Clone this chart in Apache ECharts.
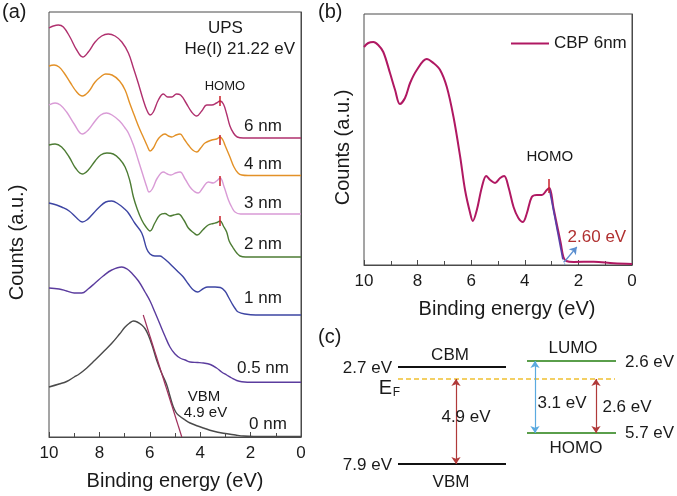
<!DOCTYPE html>
<html><head><meta charset="utf-8">
<script src="https://cdn.jsdelivr.net/npm/echarts@6/dist/echarts.min.js"></script>
<style>html,body{margin:0;padding:0;background:#fff}#c{width:677px;height:496px}</style>
</head><body><div id="c"></div>
<script>
// ---------------- data ----------------
const energyTicks = [10, 8, 6, 4, 2, 0];
const thicknessLabels = ['6 nm', '4 nm', '3 nm', '2 nm', '1 nm', '0.5 nm', '0 nm'];

// Panel (a): UPS spectra, [binding energy (eV), counts (a.u., offset)]
const ups6nm = [[10,409],[9.83,411],[9.63,412],[9.43,410],[9.17,400],[8.9,387],[8.66,380],[8.44,385],[8.17,395],[7.91,401],[7.65,403],[7.38,401],[7.11,395],[6.85,384],[6.65,369],[6.46,354],[6.26,337],[6.12,327],[5.99,322],[5.86,325],[5.66,337],[5.46,343],[5.29,340],[5.13,340],[4.94,343],[4.78,342],[4.56,334],[4.34,325],[4.14,321],[3.94,326],[3.74,332],[3.54,332],[3.35,334],[3.21,336],[3.08,333],[2.95,323],[2.82,311],[2.68,304],[2.53,300],[2.29,299],[1.5,299],[0,299]];
const ups4nm = [[10,371],[9.8,372],[9.6,370],[9.4,364],[9.17,355],[8.9,345],[8.68,341],[8.44,345],[8.17,355],[7.91,361],[7.75,363],[7.5,362],[7.2,356],[6.98,347],[6.8,334],[6.59,320],[6.42,309],[6.26,300],[6.1,291],[5.99,286],[5.86,289],[5.72,296],[5.6,300],[5.4,303],[5.26,301],[5.13,300],[4.96,302],[4.8,303],[4.64,298],[4.47,292],[4.3,287],[4.14,285],[3.98,289],[3.81,294],[3.54,297],[3.35,298],[3.21,300],[3.1,297],[3.02,292],[2.82,280],[2.66,270],[2.5,264],[2.35,262],[2.1,261.5],[0,261.5]];
const ups3nm = [[10,332],[9.76,334],[9.55,332],[9.3,325],[9.0,313],[8.68,303],[8.44,307],[8.17,316],[7.95,322],[7.72,324],[7.5,322],[7.2,316],[6.98,309],[6.85,304],[6.65,292],[6.46,277],[6.26,261],[6.12,250],[6.03,245],[5.9,248],[5.7,259],[5.46,265],[5.3,263],[5.16,262],[4.98,264],[4.8,265],[4.6,258],[4.34,248],[4.08,244],[3.9,249],[3.68,255],[3.48,254],[3.35,256],[3.21,259],[3.05,250],[2.88,237],[2.75,230],[2.62,225],[2.4,223],[0,223]];
const ups2nm = [[10,292],[9.76,293],[9.5,290],[9.2,280],[8.95,269],[8.68,263],[8.44,267],[8.17,276],[7.95,282],[7.7,284],[7.45,283],[7.2,278],[6.98,270],[6.8,257],[6.65,240],[6.5,228],[6.32,217],[6.15,210],[5.99,206],[5.8,214],[5.6,222],[5.4,223.5],[5.2,221],[5.05,222],[4.87,223],[4.65,217],[4.47,209],[4.25,204],[4.12,202],[3.9,207],[3.68,212],[3.48,213.5],[3.33,214.5],[3.21,216],[3.08,211],[2.95,205],[2.85,196],[2.69,189],[2.55,184],[2.42,181],[2.2,180],[0,180]];
const ups1nm = [[10,234],[9.7,232],[9.5,230],[9.2,226],[8.9,219],[8.68,215],[8.5,217],[8.3,222],[8.0,230],[7.75,235],[7.51,236],[7.25,233],[7.0,228],[6.85,224],[6.6,214],[6.32,204],[6.12,188],[5.99,183],[5.8,181],[5.6,181],[5.46,179],[5.27,175],[5.07,170],[4.87,165],[4.67,160],[4.47,153],[4.27,147],[4.1,145],[3.9,148],[3.7,150],[3.41,150],[3.2,149.5],[3.02,146],[2.88,140],[2.75,134],[2.6,128],[2.49,125],[2.22,123],[1.8,122],[0,122]];
const ups05nm = [[10,149],[9.6,148],[9.3,146],[9.0,144],[8.7,144],[8.45,148],[8.17,154],[7.85,161],[7.51,167],[7.11,170],[6.9,168],[6.72,164],[6.45,156],[6.19,145],[5.99,136],[5.8,125],[5.6,113],[5.4,101],[5.2,90],[5.0,83],[4.8,79],[4.6,77],[4.4,75],[4.1,74.5],[3.87,74],[3.6,72.5],[3.35,69],[3.15,65],[2.95,62],[2.75,59],[2.55,56.5],[2.35,55.3],[1.9,54.7],[0,54.7]];
const ups0nm = [[10,50],[9.6,53],[9.3,55.5],[9.0,60],[8.8,63],[8.5,69],[8.17,77],[7.85,85],[7.5,94],[7.2,103],[6.98,110],[6.8,114],[6.65,116],[6.5,115],[6.32,112],[6.18,108],[6.06,102],[5.9,91],[5.73,77],[5.55,65],[5.34,53],[5.2,41],[5.08,31],[4.97,25],[4.87,22],[4.6,17],[4.4,14],[4.1,11],[3.87,9],[3.5,6],[3.08,3.7],[2.6,2],[2.28,1],[1.88,0.5],[0,0.5]];
const vbmTangent = [[6.26,122],[4.73,0]];
const homoEnergyA = 3.21;
const homoCountsA = [336, 297, 256, 216];

// Panel (b): CBP 6 nm spectrum
const cbp6nm = [[10,218],[9.84,222],[9.65,223],[9.47,220],[9.28,213],[9.03,192],[8.84,175],[8.66,161],[8.47,167],[8.28,182],[8.03,195],[7.66,206],[7.41,202],[7.16,195],[6.91,178],[6.66,148],[6.41,108],[6.23,75],[6.04,52],[5.94,44],[5.79,55],[5.6,78],[5.44,89],[5.29,85],[5.11,82],[4.92,87],[4.77,89],[4.61,78],[4.42,58],[4.24,47],[4.07,43],[3.92,52],[3.74,68],[3.55,70],[3.36,70],[3.18,75],[3.08,77],[2.93,57],[2.8,40],[2.66,22],[2.56,8],[2.45,4],[2.18,3],[1.43,3.3],[0.69,1.7],[0,1]];
const onsetFit = [[3.08,76],[2.58,6]];
const onsetTail = [[2.58,6],[2.5,0]];
const homoOnset = '2.60 eV';
const homoEnergyB = 3.12;

// Panel (c): energy level diagram
const levelNames = ['CBM', 'VBM', 'LUMO', 'HOMO'];
const levelEnergies = ['2.7 eV', '7.9 eV', '2.6 eV', '5.7 eV'];
const gapValues = ['4.9 eV', '3.1 eV', '2.6 eV'];

// ---------------- styling / layout ----------------
const FONT = '"Liberation Sans", Arial, Helvetica, sans-serif';
const INK = '#1a1a1a';
const AX = '#4a4a4a';
const colorsA = ['#b0306e', '#e39127', '#d99bd6', '#4d7c34', '#3d45a3', '#5b3c9e', '#4a4a4a'];
const curvesA = [ups6nm, ups4nm, ups3nm, ups2nm, ups1nm, ups05nm, ups0nm];

function xAx(gi, gap, pad) {
  return {
    type: 'value', gridIndex: gi, min: 0, max: 10, interval: 2, inverse: true,
    axisLine: {show: true, onZero: false, lineStyle: {color: AX, width: 1}},
    axisTick: {show: true, inside: true, length: 5, lineStyle: {color: AX}},
    minorTick: {show: true, splitNumber: 2, length: 4, lineStyle: {color: AX}},
    axisLabel: {color: INK, fontSize: 17, fontFamily: FONT, margin: 8,
      formatter: v => energyTicks.includes(v) ? String(v) : ''},
    splitLine: {show: false}, minorSplitLine: {show: false},
    name: 'Binding energy (eV)', nameLocation: 'middle', nameGap: gap,
    nameTextStyle: {fontSize: 20, color: INK, fontFamily: FONT, padding: pad}
  };
}
function yAx(gi, max) {
  return {type: 'value', gridIndex: gi, min: 0, max: max,
    axisLine: {show: true, lineStyle: {color: AX}}, axisTick: {show: false},
    axisLabel: {show: false}, splitLine: {show: false}};
}
function txt(x, y, text, size, align, color) {
  return {value: [x, y], label: {show: true, formatter: text, position: [0, 0],
    align: align || 'center', verticalAlign: 'middle', fontSize: size, color: color || INK,
    fontFamily: FONT, opacity: 1, textBorderWidth: 0}};
}
function textSeries(xi, items) {
  return {type: 'scatter', xAxisIndex: xi, yAxisIndex: xi, symbolSize: 0, silent: true,
    itemStyle: {opacity: 1}, z: 5, data: items, emphasis: {disabled: true}};
}

const series = [];
curvesA.forEach((d, i) => {
  const s = {type: 'line', name: thicknessLabels[i], xAxisIndex: 0, yAxisIndex: 0, data: d,
    symbol: 'none', smooth: 0.4,
    lineStyle: {color: colorsA[i], width: 1.4}, itemStyle: {color: colorsA[i]}, silent: true};
  if (i < homoCountsA.length) {
    s.markLine = {silent: true, symbol: ['none', 'none'], label: {show: false},
      lineStyle: {color: '#c8202a', width: 1.5, type: 'solid'},
      data: [[{coord: [homoEnergyA, homoCountsA[i] - 5]}, {coord: [homoEnergyA, homoCountsA[i] + 5]}]]};
  }
  series.push(s);
});
series.push({type: 'line', xAxisIndex: 0, yAxisIndex: 0, data: vbmTangent, symbol: 'none',
  lineStyle: {color: '#a0305c', width: 1.2}, silent: true});

// panel (a) texts
const thickY = [311, 273, 234, 193, 139, 69, 13];
series.push(textSeries(0, [
  txt(3.0, 409, 'UPS', 17), txt(2.43, 388, 'He(I) 21.22 eV', 17), txt(3.02, 351, 'HOMO', 13),
  txt(3.85, 40, 'VBM', 15), txt(3.79, 24, '4.9 eV', 15)
].concat(thicknessLabels.map((t, i) => txt(i === 6 ? 1.31 : 1.51, thickY[i], t, 17)))));

// panel (b)
series.push({type: 'line', name: 'CBP 6nm', xAxisIndex: 1, yAxisIndex: 1, data: cbp6nm,
  symbol: 'none', smooth: 0.35, lineStyle: {color: '#b01862', width: 2},
  itemStyle: {color: '#b01862'}, silent: true,
  markLine: {silent: true, symbol: ['none', 'none'], label: {show: false},
    lineStyle: {color: '#c8202a', width: 1.5, type: 'solid'},
    data: [[{coord: [homoEnergyB, 72]}, {coord: [homoEnergyB, 86]}]]}});
series.push({type: 'line', xAxisIndex: 1, yAxisIndex: 1, data: onsetFit, symbol: 'none',
  lineStyle: {color: '#5a3fa8', width: 1.6}, silent: true, z: 3});
series.push({type: 'line', xAxisIndex: 1, yAxisIndex: 1, data: onsetTail, symbol: 'none',
  lineStyle: {color: '#6a8fd0', width: 1.2, type: 'dotted'}, silent: true, z: 3,
  markLine: {silent: true, symbol: ['none', 'arrow'], symbolSize: 7, label: {show: false},
    lineStyle: {color: '#5b8fd0', width: 1.2, type: 'solid'},
    data: [[{coord: [2.53, 3]}, {coord: [2.06, 18]}]]}});
series.push(textSeries(1, [txt(3.07, 108, 'HOMO', 15), txt(1.31, 28, homoOnset, 17, 'center', '#b03030')]));

// panel (c) layout (diagram units)
const cLevelX = [[78, 186], [78, 186], [207, 296], [207, 296]];
const cLevelY = [27, 124, 21, 93];
const cLevelColor = ['#111', '#111', '#5a9e4b', '#5a9e4b'];
cLevelX.forEach((xs, i) => series.push({type: 'line', xAxisIndex: 2, yAxisIndex: 2,
  data: [[xs[0], cLevelY[i]], [xs[1], cLevelY[i]]], symbol: 'none', silent: true,
  lineStyle: {color: cLevelColor[i], width: 2}}));
series.push({type: 'line', xAxisIndex: 2, yAxisIndex: 2, data: [[78, 39], [295, 39]], symbol: 'none',
  silent: true, lineStyle: {color: '#f0c030', width: 1.5, type: [5, 3]},
  markLine: {silent: true, symbol: ['arrow', 'arrow'], symbolSize: 7, label: {show: false},
    data: [
      [{coord: [136, 39], lineStyle: {color: '#b03a3a', width: 1.2, type: 'solid'}}, {coord: [136, 124]}],
      [{coord: [215, 21], lineStyle: {color: '#5aaae0', width: 1.2, type: 'solid'}}, {coord: [215, 93]}],
      [{coord: [276, 39], lineStyle: {color: '#b03a3a', width: 1.2, type: 'solid'}}, {coord: [276, 93]}]
    ]}});
series.push(textSeries(2, [
  txt(130, 15, levelNames[0], 17), txt(131, 142, levelNames[1], 17),
  txt(253, 8, levelNames[2], 17), txt(256, 108, levelNames[3], 17),
  txt(72, 28, levelEnergies[0], 17, 'right'), txt(72, 125, levelEnergies[1], 17, 'right'),
  txt(305, 22, levelEnergies[2], 17, 'left'), txt(305, 93, levelEnergies[3], 17, 'left'),
  txt(146, 77, gapValues[0], 17), txt(242, 63, gapValues[1], 17), txt(307, 67, gapValues[2], 17),
  txt(72, 48, 'E', 20, 'right'), txt(76.5, 53, 'F', 12)
]));

const option = {
  animation: false,
  backgroundColor: '#fff',
  textStyle: {fontFamily: FONT},
  grid: [
    {left: 49, top: 12, width: 252, height: 425, show: true, borderColor: AX, borderWidth: 1, outerBoundsMode: 'none', containLabel: false},
    {left: 364, top: 14, width: 268, height: 251, show: true, borderColor: AX, borderWidth: 1, outerBoundsMode: 'none', containLabel: false},
    {left: 320, top: 340, width: 357, height: 150, show: false, outerBoundsMode: 'none', containLabel: false}
  ],
  xAxis: [xAx(0, 34, [0, 0, 0, 0]), xAx(1, 34, [0, 0, 0, 18]),
    {type: 'value', gridIndex: 2, min: 0, max: 357, show: false}],
  yAxis: [yAx(0, 425), yAx(1, 251),
    {type: 'value', gridIndex: 2, min: 0, max: 150, inverse: true, show: false}],
  legend: {data: ['CBP 6nm'], left: 511, top: 35, padding: 0, icon: 'rect', itemWidth: 38, itemHeight: 2,
    itemGap: 5, selectedMode: false, textStyle: {fontSize: 17, color: INK, fontFamily: FONT}},
  graphic: [
    {type: 'text', left: 2, top: 2, style: {text: '(a)', fontSize: 20, fontFamily: FONT, fill: INK}},
    {type: 'text', left: 318, top: 2, style: {text: '(b)', fontSize: 20, fontFamily: FONT, fill: INK}},
    {type: 'text', left: 318, top: 327, style: {text: '(c)', fontSize: 20, fontFamily: FONT, fill: INK}},
    {type: 'text', x: 17.5, y: 242.5, rotation: Math.PI / 2,
      style: {text: 'Counts (a.u.)', fontSize: 20, fontFamily: FONT, fill: INK, align: 'center', verticalAlign: 'middle'}},
    {type: 'text', x: 343, y: 147.5, rotation: Math.PI / 2,
      style: {text: 'Counts (a.u.)', fontSize: 20, fontFamily: FONT, fill: INK, align: 'center', verticalAlign: 'middle'}}
  ],
  series: series
};
const chart = echarts.init(document.getElementById('c'), null, {renderer: 'canvas'});
chart.setOption(option);
</script></body></html>
